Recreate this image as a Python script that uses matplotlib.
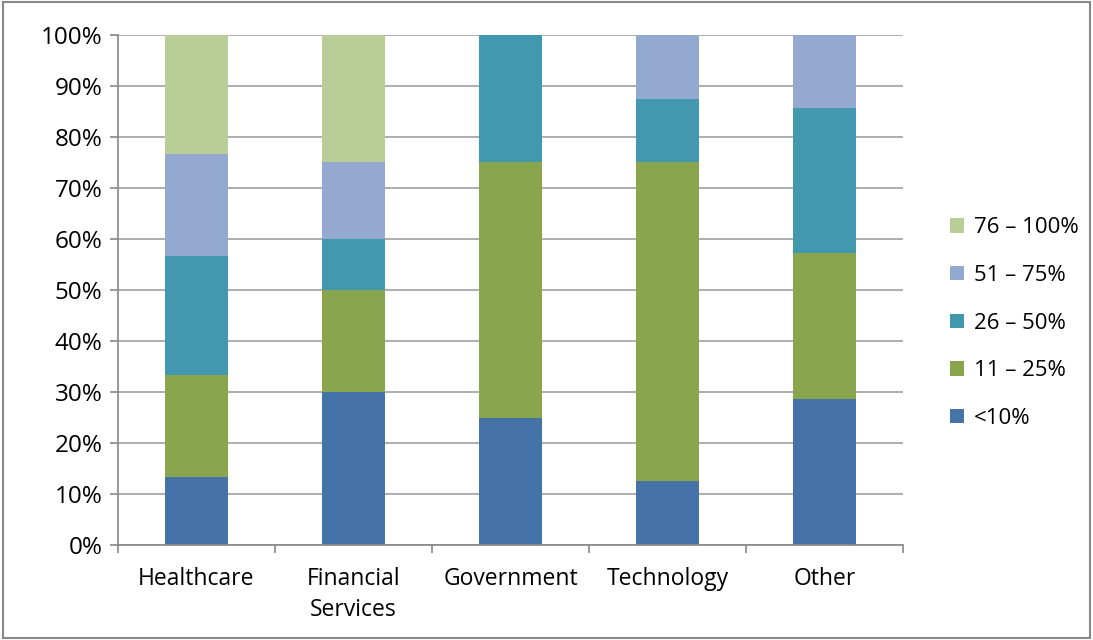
import matplotlib.pyplot as plt
import numpy as np

plt.rcParams['font.family'] = ['Open Sans', 'DejaVu Sans']

categories = ['Healthcare', 'Financial\nServices', 'Government', 'Technology', 'Other']
series = ['<10%', '11 \u2013 25%', '26 \u2013 50%', '51 \u2013 75%', '76 \u2013 100%']
lt10 = [13.3, 30.0, 25.0, 12.5, 28.6]
p11_25 = [20.0, 20.0, 50.0, 62.5, 28.6]
p26_50 = [23.3, 10.0, 25.0, 12.5, 28.5]
p51_75 = [20.1, 15.0, 0.0, 12.5, 14.3]
p76_100 = [23.3, 25.0, 0.0, 0.0, 0.0]
colors = ['#4572A7', '#89A54E', '#4198AF', '#93A9CF', '#B9CD96']

fig = plt.figure(figsize=(10.93, 6.4), dpi=100)
ax = fig.add_axes([118 / 1093, 1 - 545 / 640, 785 / 1093, 510 / 640])

x = np.arange(len(categories))
bottom = np.zeros(len(categories))
handles = []
for vals, name, c in zip([lt10, p11_25, p26_50, p51_75, p76_100], series, colors):
    b = ax.bar(x, vals, 0.4, bottom=bottom, color=c, label=name, zorder=2)
    handles.append(b)
    bottom += np.array(vals)

ax.set_xlim(-0.5, len(categories) - 0.5)
ax.set_ylim(0, 100)
ax.set_yticks(np.arange(0, 101, 10))
ax.set_yticklabels([f'{v}%' for v in range(0, 101, 10)], fontsize=17.5)
ax.yaxis.grid(True, color='#A0A0A0', lw=1.2, zorder=0)
ax.set_xticks(x)
ax.set_xticklabels(categories, fontsize=16.5, linespacing=1.4)
ax.set_xticks(np.arange(-0.5, len(categories)), minor=True)
ax.tick_params(axis='x', which='major', length=0, pad=16)
ax.tick_params(axis='x', which='minor', length=6, color='#888888', width=1.2)
ax.tick_params(axis='y', length=6, color='#888888', width=1.2, pad=5)
for s in ['top', 'right']:
    ax.spines[s].set_visible(False)
for s in ['left', 'bottom']:
    ax.spines[s].set_color('#888888')
    ax.spines[s].set_linewidth(1.2)

leg = ax.legend(handles[::-1], series[::-1], loc='center left', bbox_to_anchor=(1.035, 0.435),
                frameon=False, fontsize=16, handlelength=0.6, handleheight=0.6,
                labelspacing=1.2, handletextpad=0.45)

fig.patches.append(plt.Rectangle((0.003, 0.003), 0.994, 0.994, transform=fig.transFigure,
                                 fill=False, edgecolor='#888888', lw=1.5))
fig.savefig('out.png', dpi=100)
